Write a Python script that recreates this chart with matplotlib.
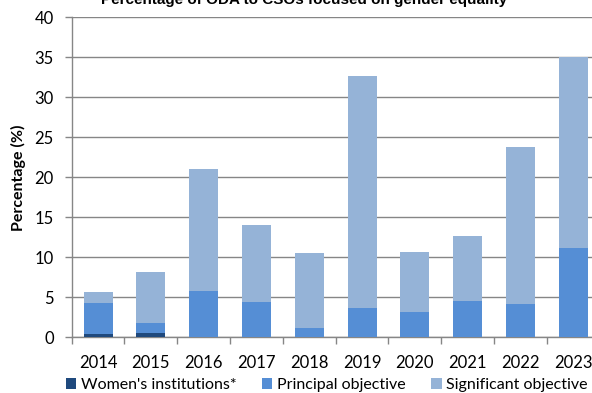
import matplotlib
matplotlib.use('Agg')
import matplotlib.pyplot as plt
import numpy as np
from matplotlib.patches import Patch

# datos
anios = ['2014', '2015', '2016', '2017', '2018', '2019', '2020', '2021', '2022', '2023']
mujeres = [0.4, 0.6, 0, 0, 0, 0, 0, 0, 0, 0]
principal = [3.9, 1.25, 5.8, 4.45, 1.15, 3.7, 3.2, 4.5, 4.15, 11.15]
significativo = [1.4, 6.3, 15.3, 9.65, 9.45, 29.0, 7.5, 8.15, 19.65, 23.85]

etiquetas = ["Women's institutions*", 'Principal objective', 'Significant objective']
colores = ['#1F497D', '#558ED5', '#95B3D7']

plt.rcParams['font.family'] = ['Lato', 'DejaVu Sans']

fig = plt.figure(figsize=(5.92, 3.93), dpi=100)
ax = fig.add_axes([71.7 / 592, (393 - 337.3) / 393, 528 / 592, 320 / 393])

x = np.arange(len(anios))
ancho = 0.55
base = np.zeros(len(anios))
for valores, color in zip([mujeres, principal, significativo], colores):
    ax.bar(x, valores, ancho, bottom=base, color=color, zorder=3, linewidth=0)
    base = base + np.array(valores)

ax.set_xlim(-0.5, len(anios) - 0.5)
ax.set_ylim(0, 40)
ax.set_yticks(range(0, 41, 5))
ax.yaxis.grid(True, color='#868686', linewidth=1.0, zorder=0)

ax.set_xticks(x)
ax.set_xticklabels(anios, fontsize=12)
ax.set_xticks(np.arange(-0.5, len(anios) - 0.4, 1), minor=True)
ax.tick_params(axis='x', which='major', length=0, pad=13)
ax.tick_params(axis='x', which='minor', length=5, color='#868686', width=1)
ax.tick_params(axis='y', length=5, color='#868686', width=1, labelsize=12, pad=8)

for lado in ['top', 'right']:
    ax.spines[lado].set_visible(False)
for lado in ['left', 'bottom']:
    ax.spines[lado].set_color('#868686')
    ax.spines[lado].set_linewidth(1.0)

ax.set_ylabel('Percentage (%)', fontsize=11.5, fontweight='bold', labelpad=6)

# el titulo queda cortado arriba como en el original
fig.text(0.514, 1 - 4 / 393, 'Percentage of ODA to CSOs focused on gender equality',
         ha='center', va='baseline', fontsize=11, fontweight='bold',
         family=['Liberation Sans', 'DejaVu Sans'])

handles = [Patch(facecolor=c, edgecolor='none') for c in colores]
fig.legend(handles, etiquetas, loc='center right', bbox_to_anchor=(588 / 592, 1 - 385 / 393),
           ncol=3, frameon=False, fontsize=11.5, handlelength=0.65, handleheight=0.65,
           handletextpad=0.3, columnspacing=1.6, borderpad=0, borderaxespad=0)

fig.savefig('out.png', dpi=100)
